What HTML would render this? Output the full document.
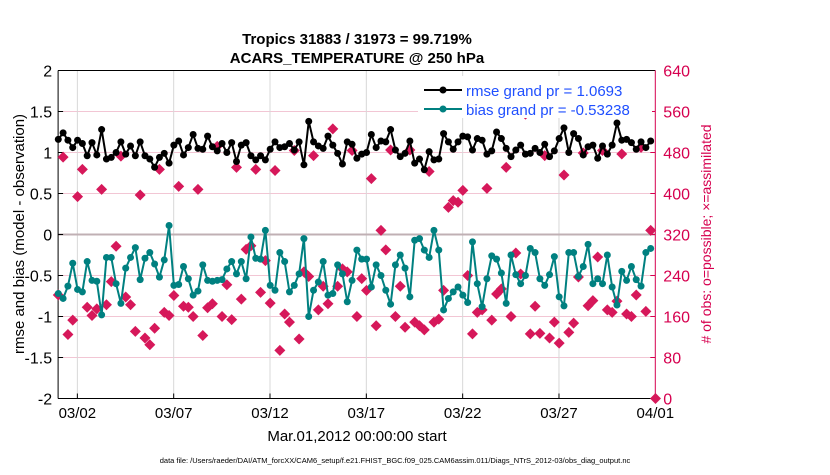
<!DOCTYPE html>
<html><head><meta charset="utf-8"><style>
body{margin:0;background:#fff;}
svg{font-family:"Liberation Sans",sans-serif;}
</style></head><body>
<svg id="chart" width="830" height="470" viewBox="0 0 830 470" xmlns="http://www.w3.org/2000/svg">
<rect width="830" height="470" fill="#fff"/>
<g id="grid"></g>
<g id="axes"></g>
<g id="marks"></g>
<text x="357" y="44" text-anchor="middle" font-size="15" font-weight="bold">Tropics 31883 / 31973 = 99.719%</text>
<text x="357" y="63" text-anchor="middle" font-size="15" font-weight="bold">ACARS_TEMPERATURE @ 250 hPa</text>
<text transform="translate(24,234) rotate(-90)" text-anchor="middle" font-size="15">rmse and bias (model - observation)</text>
<text transform="translate(711,234) rotate(-90)" text-anchor="middle" font-size="14" fill="#d6004f"># of obs: o=possible; ×=assimilated</text>
<text x="357" y="441" text-anchor="middle" font-size="15">Mar.01,2012 00:00:00 start</text>
<text x="395" y="463" text-anchor="middle" font-size="7.5">data file: /Users/raeder/DAI/ATM_forcXX/CAM6_setup/f.e21.FHIST_BGC.f09_025.CAM6assim.011/Diags_NTrS_2012-03/obs_diag_output.nc</text>
<g>
<rect x="418" y="76" width="234" height="42" fill="#fff"/>
<g>
<line x1="424" y1="90" x2="462" y2="90" stroke="#000" stroke-width="2"/><circle cx="443" cy="90" r="3.5" fill="#000"/>
<text x="466" y="96" font-size="15" fill="#1f4fff">rmse grand pr = 1.0693</text></g>
<g>
<line x1="424" y1="109" x2="462" y2="109" stroke="#008080" stroke-width="2"/><circle cx="443" cy="109" r="3.5" fill="#008080"/>
<text x="466" y="115" font-size="15" fill="#1f4fff">bias grand pr = -0.53238</text></g>
</g>
</svg>
<script>
const xTickLabels=["03/02","03/07","03/12","03/17","03/22","03/27","04/01"];
const xTickDays=[1,6,11,16,21,26,31];
const yTicks=[-2,-1.5,-1,-0.5,0,0.5,1,1.5,2];
const yTickLabels=["-2","-1.5","-1","-0.5","0","0.5","1","1.5","2"];
const rTicks=[0,80,160,240,320,400,480,560,640];
const rmse=[1.16,1.24,1.15,1.06,1.15,1.11,0.96,1.12,0.97,1.28,0.92,0.94,1.0,1.13,0.98,1.08,0.96,1.13,0.96,0.92,0.82,0.94,0.99,0.87,1.09,1.14,0.97,1.06,1.22,1.05,1.04,1.2,1.07,1.02,1.11,1.0,1.12,0.89,1.09,1.12,0.96,0.91,
0.96,0.91,1.04,1.13,1.06,1.07,1.11,1.03,1.13,0.85,1.38,1.13,1.08,1.05,1.2,1.09,0.99,0.86,1.13,1.1,0.93,0.98,1.0,1.22,1.06,1.14,1.13,1.28,1.03,0.95,0.99,1.14,0.87,0.92,0.79,1.01,0.91,0.92,1.23,1.13,1.04,1.13,
1.2,1.19,1.03,1.17,1.15,0.98,1.02,1.25,1.17,1.05,0.95,1.03,1.09,0.98,0.99,1.05,1.0,1.1,0.95,1.02,1.17,1.3,1.0,1.23,1.17,0.97,1.07,1.09,0.93,1.08,0.98,1.09,1.36,1.15,1.16,1.12,1.04,1.13,1.06,1.14];
const bias=[-0.72,-0.78,-0.63,-0.35,-0.67,-0.7,-0.33,-0.56,-0.57,-0.98,-0.28,-0.28,-0.6,-0.84,-0.41,-0.28,-0.16,-0.55,-0.29,-0.22,-0.36,-0.52,-0.31,0.11,-0.62,-0.61,-0.39,-0.54,-0.74,-0.69,-0.37,-0.56,-0.57,-0.56,-0.55,-0.42,-0.33,-0.48,-0.33,-0.54,-0.03,-0.29,
-0.3,0.05,-0.62,-0.68,-0.22,-0.33,-0.7,-0.62,-0.48,-0.05,-1.0,-0.68,-0.58,-0.33,-0.74,-0.72,-0.37,-0.48,-0.82,-0.56,-0.19,-0.3,-0.3,-0.64,-0.37,-0.5,-0.68,-0.85,-0.37,-0.25,-0.41,-0.76,-0.07,-0.05,-0.19,-0.28,0.05,-0.19,-0.92,-0.78,-0.7,-0.64,
-0.74,-0.83,-0.09,-0.6,-0.88,-0.54,-0.26,-0.3,-0.47,-0.84,-0.25,-0.49,-0.6,-0.5,-0.17,-0.22,-0.54,-0.62,-0.49,-0.27,-0.76,-0.87,-0.22,-0.22,-0.51,-0.39,-0.12,-0.6,-0.54,-0.6,-0.25,-0.64,-0.86,-0.45,-0.56,-0.39,-0.55,-0.63,-0.22,-0.17];
const nobs=[202,471,125,153,394,447,178,162,175,408,183,228,297,473,198,183,131,397,118,105,137,447,168,162,201,414,180,178,160,408,123,177,185,492,160,222,154,451,194,291,298,447,207,
269,186,445,94,165,149,484,116,247,238,474,173,219,185,526,219,253,247,484,160,234,211,429,142,328,290,485,160,219,139,485,149,142,134,443,149,155,211,373,386,383,
406,240,126,168,173,410,153,204,214,451,160,284,243,555,126,180,127,474,118,149,108,436,129,147,237,479,181,191,276,484,173,168,190,477,165,160,202,490,170,328,0];

const NS="http://www.w3.org/2000/svg";
const L=58.1,R=655.3,T=70.5,B=398.5,DAYS=31;
const xs=d=>L+d*(R-L)/DAYS;
const ys=v=>B-(v+2)*(B-T)/4;
const yr=n=>B-n*(B-T)/640;
function mk(tag,attrs,parent){const e=document.createElementNS(NS,tag);for(const k in attrs)e.setAttribute(k,attrs[k]);parent.appendChild(e);return e;}
const grid=document.getElementById('grid'),axes=document.getElementById('axes'),marks=document.getElementById('marks');
yTicks.forEach((v,i)=>{
  if(v>-2&&v<2&&v!==0){const g=mk('line',{x1:L,x2:R,y1:ys(v),y2:ys(v),stroke:'#f2c6d4','stroke-width':1},grid);
  
  }
  const t=mk('text',{x:L-6,y:ys(v)+6,'text-anchor':'end','font-size':16},axes);t.textContent=yTickLabels[i];
  
  
  mk('line',{x1:L,x2:L+5,y1:ys(v),y2:ys(v),stroke:'#000'},axes);
});
rTicks.forEach(n=>{
  const t=mk('text',{x:R+8,y:yr(n)+6,'font-size':16,fill:'#d6004f'},axes);t.textContent=n;
  
  
  mk('line',{x1:R-5,x2:R,y1:yr(n),y2:yr(n),stroke:'#d6004f'},axes);
});
xTickDays.forEach((d,i)=>{
  if(d<DAYS){const g=mk('line',{x1:xs(d),x2:xs(d),y1:T,y2:B,stroke:'#d8d8d8','stroke-width':1},grid);
  
  }
  mk('line',{x1:xs(d),x2:xs(d),y1:B,y2:B-5,stroke:'#000'},axes);
  const t=mk('text',{x:xs(d),y:418,'text-anchor':'middle','font-size':15},axes);t.textContent=xTickLabels[i];
  
  
});
const z=mk('line',{x1:L,x2:R,y1:ys(0),y2:ys(0),stroke:'#c0b0b4','stroke-width':2},grid);


mk('line',{x1:L,x2:L,y1:T,y2:B,stroke:'#000'},axes);
mk('line',{x1:L,x2:R,y1:B,y2:B,stroke:'#000'},axes);
mk('line',{x1:L,x2:R,y1:T,y2:T,stroke:'#000'},axes);
mk('line',{x1:R,x2:R,y1:T,y2:B,stroke:'#d6004f'},axes);
const td=i=>i*0.25+0.01;
nobs.forEach((n,i)=>{
  const cx=xs(td(i)),cy=yr(n);
  const p=mk('polygon',{points:`${cx},${cy-5.5} ${cx+5.5},${cy} ${cx},${cy+5.5} ${cx-5.5},${cy}`,fill:'#d6185a'},marks);
  
  
});
function series(vals,color,name){
  const pl=mk('polyline',{points:vals.map((v,i)=>xs(td(i))+','+ys(v)).join(' '),fill:'none',stroke:color,'stroke-width':2},marks);
  
  
  vals.forEach((v,i)=>{const c=mk('circle',{cx:xs(td(i)),cy:ys(v),r:3.5,fill:color},marks);
  
  });
}
series(bias,'#008080','bias');
series(rmse,'#000000','rmse');
</script>
</body></html>
